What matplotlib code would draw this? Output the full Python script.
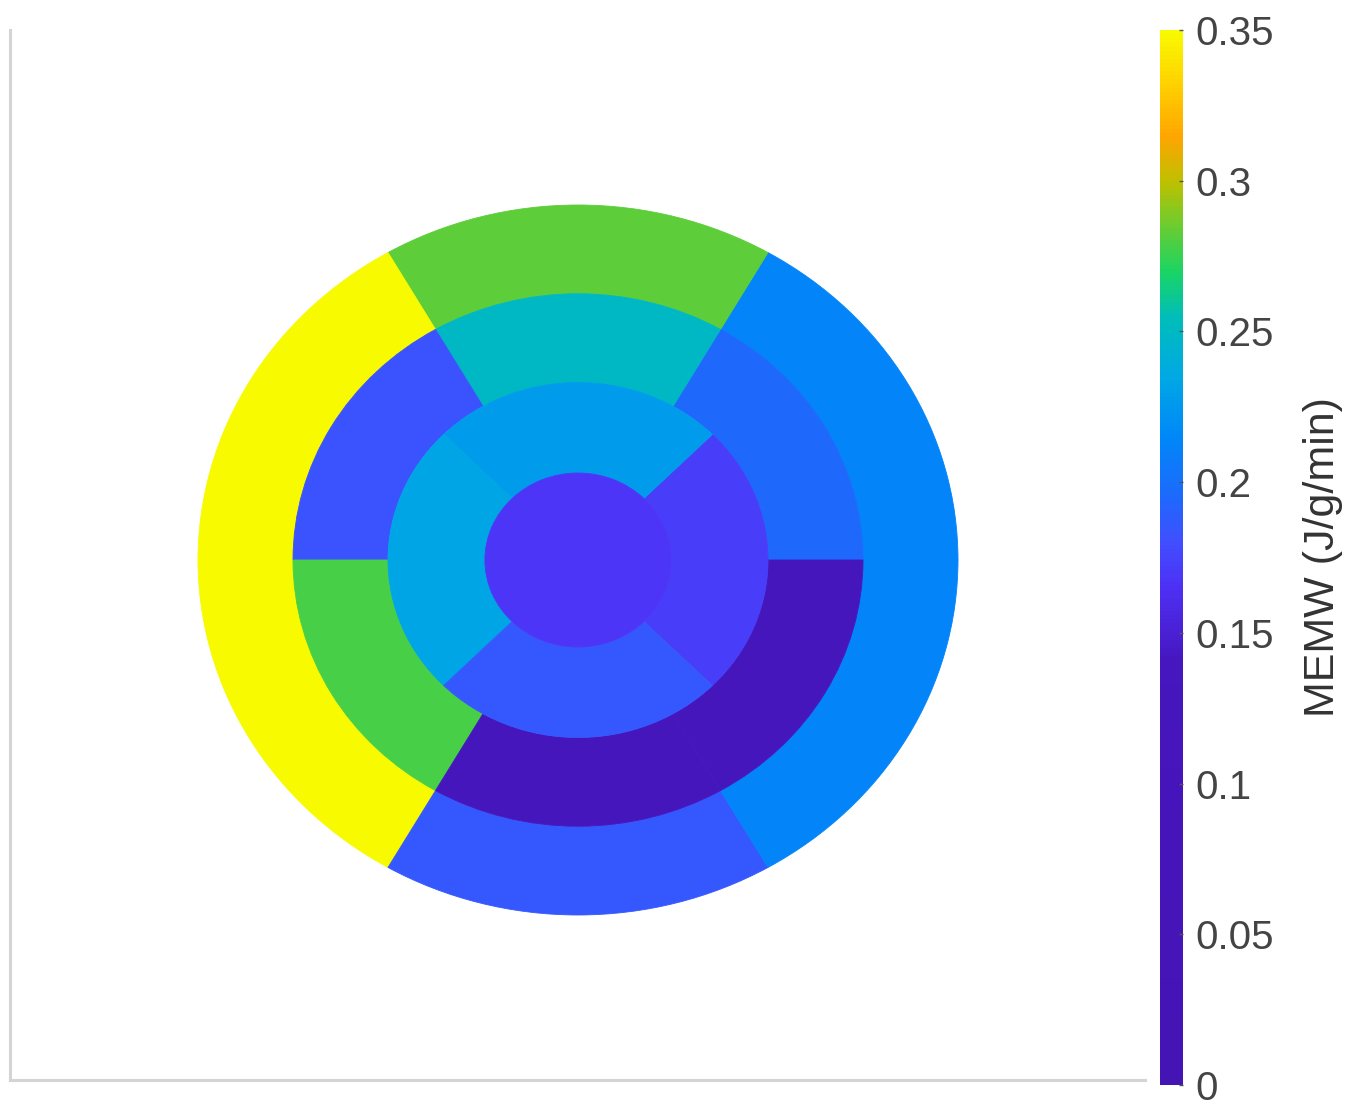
import matplotlib
matplotlib.use("Agg")
import matplotlib.pyplot as plt
import numpy as np
from matplotlib.patches import Wedge
from matplotlib.collections import PatchCollection
from matplotlib.colors import LinearSegmentedColormap, Normalize

plt.rcParams['font.family'] = ['Liberation Sans', 'DejaVu Sans']

# segment values (J/g/min), angles counter-clockwise from 3 o'clock
basal_start = [0, 60, 120, 180, 240, 300]
basal_vals = [0.212, 0.283, 0.35, 0.35, 0.185, 0.212]
mid_start = [0, 60, 120, 180, 240, 300]
mid_vals = [0.195, 0.25, 0.182, 0.278, 0.13, 0.13]
apical_start = [-45, 45, 135, 225]
apical_vals = [0.172, 0.228, 0.233, 0.185]
apex_val = 0.167

ring_radii = [0.245, 0.5, 0.75, 1.0]

cbar_ticks = [0, 0.05, 0.1, 0.15, 0.2, 0.25, 0.3, 0.35]
cbar_ticklabels = ['0', '0.05', '0.1', '0.15', '0.2', '0.25', '0.3', '0.35']

# colormap anchors
cmap_pos = [0.0, 0.14, 0.165, 0.18, 0.195, 0.215, 0.235, 0.255, 0.27, 0.285, 0.30, 0.315, 0.335, 0.35]
cmap_rgb = [(68, 20, 180), (70, 22, 190), (78, 48, 245), (65, 78, 255), (30, 105, 252),
            (0, 135, 248), (0, 168, 228), (0, 190, 185), (25, 212, 100), (105, 205, 50),
            (190, 192, 0), (255, 165, 0), (255, 215, 0), (248, 250, 0)]

vmin, vmax = 0, 0.35
cmap = LinearSegmentedColormap.from_list(
    "memw", [((p - vmin) / (vmax - vmin), tuple(c / 255 for c in rgb)) for p, rgb in zip(cmap_pos, cmap_rgb)])
norm = Normalize(vmin, vmax)

W, H = 1347, 1111
fig = plt.figure(figsize=(W / 100, H / 100), dpi=100)
ax = fig.add_axes([10 / W, 1 - 1080 / H, 1135 / W, 1050 / H])

patches, values = [], []
def add_ring(starts, vals, r_in, r_out, width_deg):
    for a, v in zip(starts, vals):
        patches.append(Wedge((0, 0), r_out, a, a + width_deg, width=r_out - r_in))
        values.append(v)

add_ring(basal_start, basal_vals, ring_radii[2], ring_radii[3], 60)
add_ring(mid_start, mid_vals, ring_radii[1], ring_radii[2], 60)
add_ring(apical_start, apical_vals, ring_radii[0], ring_radii[1], 90)
patches.append(Wedge((0, 0), ring_radii[0], 0, 360))
values.append(apex_val)

coll = PatchCollection(patches, cmap=cmap, norm=norm, edgecolor='face', linewidth=0.6)
coll.set_array(np.array(values))
ax.add_collection(coll)

# stretched axes: outer ring is 380 px wide, 355 px tall
ax.set_xlim(-568 / 380, 567 / 380)
ax.set_ylim(-520 / 355, 530 / 355)
ax.set_xticks([])
ax.set_yticks([])
for s in ['top', 'right']:
    ax.spines[s].set_visible(False)
for s in ['left', 'bottom']:
    ax.spines[s].set_color('#d4d4d4')
    ax.spines[s].set_linewidth(2.2)

cax = fig.add_axes([1160 / W, 1 - 1085 / H, 23 / W, 1055 / H])
cb = fig.colorbar(coll, cax=cax, ticks=cbar_ticks)
cb.ax.set_yticklabels(cbar_ticklabels)
cb.outline.set_visible(False)
cax.tick_params(axis='y', direction='in', length=3, width=1, colors='#555555', labelsize=29, pad=9,
                labelcolor='#444444')
cax.set_ylabel('MEMW (J/g/min)', fontsize=31, color='#333333')
cax.yaxis.set_label_coords(6.2, 0.5)

fig.savefig('out.png', dpi=100)
